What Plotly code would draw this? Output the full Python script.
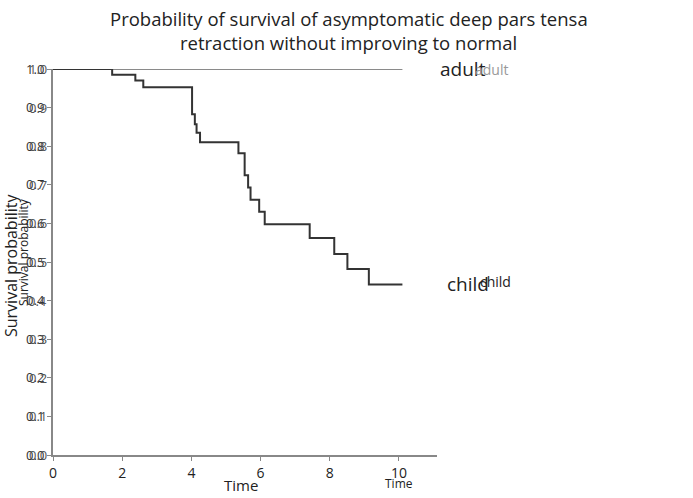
import plotly.graph_objects as go

# Data
child_time = [0, 1.71, 2.38, 2.61, 4.02, 4.10, 4.15, 4.25, 5.36, 5.54, 5.64, 5.71, 5.96, 6.12, 7.42, 8.13, 8.51, 9.13, 10.1]
child_surv = [1.0, 0.985, 0.970, 0.953, 0.883, 0.857, 0.835, 0.81, 0.782, 0.725, 0.693, 0.661, 0.630, 0.598, 0.562, 0.521, 0.482, 0.442, 0.442]
adult_time = [0, 10.1]
adult_surv = [1.0, 1.0]
y_ticks = [0.0, 0.1, 0.2, 0.3, 0.4, 0.5, 0.6, 0.7, 0.8, 0.9, 1.0]
y_tick_labels = ["0.0", "0.1", "0.2", "0.3", "0.4", "0.5", "0.6", "0.7", "0.8", "0.9", "1.0"]
x_ticks = [0, 2, 4, 6, 8, 10]
x_tick_labels = ["0", "2", "4", "6", "8", "10"]

FONT = "Open Sans, Lato, sans-serif"
DARK = "#222222"

fig = go.Figure()
fig.add_trace(go.Scatter(x=adult_time, y=adult_surv, mode="lines",
                         line=dict(color="#8a8a8a", width=2, shape="hv"), showlegend=False))
fig.add_trace(go.Scatter(x=child_time, y=child_surv, mode="lines",
                         line=dict(color="#333333", width=2, shape="hv"), showlegend=False))

annotations = []
# duplicated y tick labels (shifted overlay)
for v, t in zip(y_ticks, y_tick_labels):
    annotations.append(dict(x=0, y=v, xref="x", yref="y", text=t, showarrow=False,
                            xanchor="right", yanchor="middle", xshift=-4,
                            font=dict(family=FONT, size=13, color="#555555")))
annotations += [
    # title
    dict(x=0.77, y=1, xref="paper", yref="paper", yshift=51, text="Probability of survival of asymptomatic deep pars tensa",
         showarrow=False, xanchor="center", yanchor="middle", font=dict(family=FONT, size=18.5, color=DARK)),
    dict(x=0.77, y=1, xref="paper", yref="paper", yshift=27, text="retraction without improving to normal",
         showarrow=False, xanchor="center", yanchor="middle", font=dict(family=FONT, size=18.5, color=DARK)),
    # line end labels
    dict(x=10.1, y=1.0, xref="x", yref="y", text="adult", showarrow=False, xanchor="left",
         yanchor="middle", xshift=36, font=dict(family=FONT, size=19, color=DARK)),
    dict(x=10.1, y=1.0, xref="x", yref="y", text="adult", showarrow=False, xanchor="left",
         yanchor="middle", xshift=71, font=dict(family=FONT, size=14, color="#999999")),
    dict(x=10.1, y=0.442, xref="x", yref="y", text="child", showarrow=False, xanchor="left",
         yanchor="middle", xshift=43, font=dict(family=FONT, size=19, color=DARK)),
    dict(x=10.1, y=0.442, xref="x", yref="y", text="child", showarrow=False, xanchor="left",
         yanchor="middle", xshift=76, yshift=3, font=dict(family=FONT, size=14, color=DARK)),
    # x titles
    dict(x=5.43, y=0, xref="x", yref="y", text="Time", showarrow=False, xanchor="center",
         yanchor="middle", yshift=-30, font=dict(family=FONT, size=15, color=DARK)),
    dict(x=10, y=0, xref="x", yref="y", text="Time", showarrow=False, xanchor="center",
         yanchor="middle", yshift=-28, font=dict(family=FONT, size=12, color=DARK)),
    # y titles
    dict(x=0, y=0.5, xref="paper", yref="y", text="Survival probability", showarrow=False,
         textangle=-90, xanchor="center", yanchor="middle", xshift=-42, yshift=-4,
         font=dict(family=FONT, size=16, color=DARK)),
    dict(x=0, y=0.5, xref="paper", yref="y", text="Survival probability", showarrow=False,
         textangle=-90, xanchor="center", yanchor="middle", xshift=-30, yshift=10,
         font=dict(family=FONT, size=12, color=DARK)),
]

fig.update_layout(
    width=693, height=498,
    margin=dict(l=53, r=256, t=69, b=43, autoexpand=False),
    paper_bgcolor="white", plot_bgcolor="white",
    xaxis=dict(range=[0, 11.1], tickvals=x_ticks, ticktext=x_tick_labels, automargin=False,
               showgrid=False, zeroline=False, showline=True, linecolor="#888888", linewidth=2,
               ticks="outside", ticklen=4, tickcolor="#888888",
               tickfont=dict(family=FONT, size=14, color="#222222")),
    yaxis=dict(range=[0, 1.0], tickvals=y_ticks, ticktext=y_tick_labels, automargin=False,
               showgrid=False, zeroline=False, showline=True, linecolor="#888888", linewidth=2,
               ticks="outside", ticklen=4, tickcolor="#888888",
               tickfont=dict(family=FONT, size=13, color="#333333")),
    annotations=annotations,
)

# remove the default 8px page margin so the figure fills the window
fig.write_html("out.html", config={"displayModeBar": False},
               post_script="document.body.style.margin='0px';")
